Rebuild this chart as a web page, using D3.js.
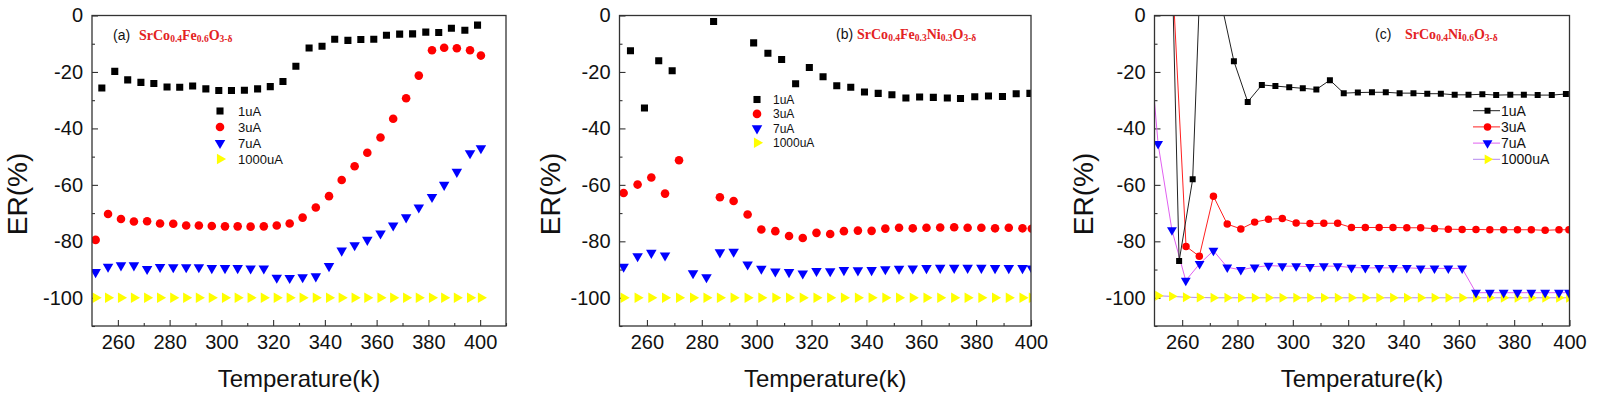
<!DOCTYPE html>
<html>
<head>
<meta charset="utf-8">
<script src="https://cdn.jsdelivr.net/npm/d3@7"></script>
<style>
  body { margin: 0; background: #fff; }
  svg { display: block; font-family: "Liberation Sans", Arial, sans-serif; }
</style>
</head>
<body>
<svg id="chart" width="1597" height="398"></svg>
<script>
// ---- panel (a) SrCo0.4Fe0.6O3-d ----
const tempA1 = [253.8, 258.8, 263.8, 268.9, 273.9, 279.0, 283.9, 288.9, 294.0, 299.0, 303.9, 308.9, 314.0, 318.9, 323.8,
  328.8, 333.9, 338.9, 343.8, 348.9, 353.9, 358.9, 363.8, 368.9, 373.9, 379.0, 384.0, 388.9, 394.1, 399.0];
const erA1 = [-25.7, -19.8, -22.8, -23.7, -24.1, -25.3, -25.4, -25.0, -26.0, -26.6, -26.6, -26.5, -26.0, -25.2, -23.4,
  -18.0, -11.5, -10.9, -8.4, -8.8, -8.5, -8.4, -7.0, -6.6, -6.5, -5.9, -6.0, -4.5, -5.2, -3.4];
const tempA = [251.4, 256.2, 261.2, 266.2, 271.3, 276.3, 281.4, 286.4, 291.3, 296.3, 301.4, 306.3, 311.3, 316.4, 321.4,
  326.4, 331.4, 336.5, 341.6, 346.5, 351.5, 356.4, 361.5, 366.4, 371.4, 376.3, 381.4, 386.1, 391.0, 396.1, 400.3];
const erA3 = [-79.5, -70.3, -72.1, -73.0, -72.9, -73.7, -73.8, -74.4, -74.4, -74.6, -74.7, -74.7, -74.8, -74.7, -74.4,
  -73.7, -71.6, -68.0, -64.0, -58.3, -53.4, -48.6, -43.2, -36.6, -29.3, -21.3, -12.3, -11.4, -11.6, -12.3, -14.2];
const erA7 = [-90.9, -89.0, -88.5, -88.5, -89.8, -89.1, -89.2, -89.2, -89.2, -89.5, -89.5, -89.5, -89.6, -89.6, -92.9,
  -93.0, -92.7, -92.4, -88.8, -83.3, -81.4, -79.5, -77.2, -74.4, -71.5, -68.0, -64.3, -60.0, -55.4, -48.8, -47.0];
const erA1000 = [-100, -100, -100, -100, -100, -100, -100, -100, -100, -100, -100, -100, -100, -100, -100,
  -100, -100, -100, -100, -100, -100, -100, -100, -100, -100, -100, -100, -100, -100, -100, -100];

// ---- panel (b) SrCo0.4Fe0.3Ni0.3O3-d ----
const tempB1 = [254.0, 259.1, 264.3, 269.2, 284.3, 298.9, 304.1, 309.1, 314.2, 319.2, 324.2, 329.2, 334.3, 339.3,
  344.3, 349.3, 354.4, 359.4, 364.4, 369.5, 374.3, 379.5, 384.5, 389.6, 394.6, 399.6];
const erB1 = [-12.5, -32.8, -16.0, -19.6, -2.1, -9.7, -13.4, -15.6, -24.2, -18.4, -21.7, -24.9, -25.4, -27.1,
  -27.6, -28.1, -29.2, -28.9, -29.0, -29.2, -29.4, -28.8, -28.5, -28.7, -27.7, -27.6];
const tempB3 = [251.5, 256.6, 261.6, 266.6, 271.7, 286.6, 291.6, 296.7, 301.7, 306.8, 311.8, 316.8, 321.8, 326.8,
  331.8, 336.9, 341.9, 346.9, 351.9, 356.9, 361.9, 366.9, 372.0, 376.9, 381.9, 386.9, 391.9, 396.9, 400.3];
const erB3 = [-62.9, -59.9, -57.4, -63.1, -51.3, -64.4, -65.7, -70.5, -75.8, -76.4, -78.1, -78.8, -77.0, -77.4,
  -76.4, -76.2, -76.3, -75.5, -75.2, -75.4, -75.2, -75.1, -75.0, -75.2, -75.2, -75.4, -75.2, -75.4, -75.5];
const tempB7 = [251.5, 256.6, 261.6, 266.6, 276.8, 281.7, 286.6, 291.6, 296.7, 301.7, 306.8, 311.8, 316.8, 321.8,
  326.8, 331.8, 336.9, 341.9, 346.9, 351.9, 356.9, 361.9, 366.9, 372.0, 376.9, 381.9, 386.9, 391.9, 396.9, 400.3];
const erB7 = [-89.0, -85.3, -84.1, -85.0, -91.3, -92.7, -83.9, -83.7, -88.2, -89.7, -90.7, -90.9, -91.4, -90.5,
  -90.6, -90.2, -90.3, -90.2, -89.9, -89.7, -89.6, -89.5, -89.4, -89.4, -89.4, -89.4, -89.5, -89.5, -89.5, -89.6];
const tempB1000 = [251.5, 256.6, 261.6, 266.6, 271.7, 276.8, 281.7, 286.6, 291.6, 296.7, 301.7, 306.8, 311.8, 316.8,
  321.8, 326.8, 331.8, 336.9, 341.9, 346.9, 351.9, 356.9, 361.9, 366.9, 372.0, 376.9, 381.9, 386.9, 391.9, 396.9, 400.3];
const erB1000 = [-100, -100, -100, -100, -100, -100, -100, -100, -100, -100, -100, -100, -100, -100,
  -100, -100, -100, -100, -100, -100, -100, -100, -100, -100, -100, -100, -100, -100, -100, -100, -100];

// ---- panel (c) SrCo0.4Ni0.6O3-d ----
const tempC1 = [253.9, 258.9, 263.8, 268.8, 273.8, 278.7, 283.7, 288.8, 293.7, 298.7, 303.6, 308.5, 313.4, 318.4,
  323.5, 328.6, 333.6, 338.6, 343.6, 348.6, 353.5, 358.5, 363.5, 368.5, 373.5, 378.6, 383.5, 388.5, 393.6, 398.7];
const erC1 = [120, -87.0, -58.0, 74, 6, -16.2, -30.6, -24.6, -25.0, -25.4, -25.8, -26.2, -22.9, -27.5,
  -27.3, -27.2, -27.2, -27.5, -27.5, -27.7, -27.7, -28.1, -28.1, -27.9, -28.2, -28.1, -28.1, -28.2, -28.2, -27.8];
const tempC3 = [256.3, 261.4, 266.2, 271.3, 276.3, 281.2, 286.2, 291.2, 296.2, 301.2, 306.2, 311.2, 316.2, 321.2,
  326.2, 331.2, 336.2, 341.2, 346.2, 351.2, 356.2, 361.2, 366.2, 371.2, 376.2, 381.2, 386.2, 391.2, 396.2, 399.8];
const erC3 = [17.6, -81.8, -85.3, -64.0, -73.9, -75.6, -73.2, -72.2, -71.9, -73.5, -73.7, -73.6, -73.6, -75.1,
  -75.1, -75.1, -75.1, -75.2, -75.2, -75.5, -75.7, -75.8, -75.8, -75.9, -75.9, -75.9, -75.9, -76.1, -75.9, -75.9];
const tempC7 = [246.3, 251.3, 256.3, 261.3, 266.3, 271.3, 276.3, 281.2, 286.2, 291.2, 296.2, 301.2, 306.2, 311.2,
  316.2, 321.2, 326.2, 331.2, 336.2, 341.2, 346.2, 351.2, 356.2, 361.2, 366.2, 371.2, 376.2, 381.2, 386.2, 391.2,
  396.2, 399.8];
const erC7 = [12, -45.5, -76.0, -93.9, -88.0, -83.3, -89.2, -90.1, -89.2, -88.6, -88.8, -88.8, -89.0, -88.8,
  -88.8, -89.3, -89.4, -89.4, -89.4, -89.4, -89.6, -89.6, -89.6, -89.6, -98.2, -98.2, -98.2, -98.2, -98.2, -98.2,
  -98.2, -98.2];
const tempC1000 = [251.3, 256.3, 261.3, 266.3, 271.3, 276.3, 281.2, 286.2, 291.2, 296.2, 301.2, 306.2, 311.2, 316.2,
  321.2, 326.2, 331.2, 336.2, 341.2, 346.2, 351.2, 356.2, 361.2, 366.2, 371.2, 376.2, 381.2, 386.2, 391.2, 396.2, 399.8];
const erC1000 = [-99.3, -99.5, -99.8, -99.9, -100, -100, -100, -100, -100, -100, -100, -100, -100, -100,
  -100, -100, -100, -100, -100, -100, -100, -100, -100, -100, -100, -100, -100, -100, -100, -100, -100];

const currentLabels = ["1uA", "3uA", "7uA", "1000uA"];
const xMajorTicks = [260, 280, 300, 320, 340, 360, 380, 400];
const yMajorTicks = [0, -20, -40, -60, -80, -100];
const yMinorTicks = [-10, -30, -50, -70, -90, -110];

const TITLE_RED = "#e3231f";
const SHAPES = ["square", "circle", "down", "right"];
const MARKER_COLORS = ["#000000", "#ff0000", "#0000ff", "#ffff00"];

const zip = (t, v) => t.map((d, i) => ({ t: d, v: v[i] }));

const panels = [
  {
    id: "a", label: "(a)", labelX: 113, formulaX: 139, titleY: 40,
    formula: [["SrCo", 0], ["0.4", 1], ["Fe", 0], ["0.6", 1], ["O", 0], ["3-δ", 1]],
    xRange: [92, 506], xDomain: [250, 410], xMinor: [270, 290, 310, 330, 350, 370, 390, 410],
    yTitleX: 27,
    series: [zip(tempA1, erA1), zip(tempA, erA3), zip(tempA, erA7), zip(tempA, erA1000)],
    lines: null, sizes: [50, 58, 48, 48],
    legend: { mx: 220, tx: 238, y0: 111, dy: 16, font: 13, withLines: false },
  },
  {
    id: "b", label: "(b)", labelX: 836, formulaX: 857, titleY: 39,
    formula: [["SrCo", 0], ["0.4", 1], ["Fe", 0], ["0.3", 1], ["Ni", 0], ["0.3", 1], ["O", 0], ["3-δ", 1]],
    xRange: [619.5, 1031], xDomain: [250, 400], xMinor: [270, 290, 310, 330, 350, 370, 390],
    yTitleX: 560,
    series: [zip(tempB1, erB1), zip(tempB3, erB3), zip(tempB7, erB7), zip(tempB1000, erB1000)],
    lines: null, sizes: [50, 58, 48, 48],
    legend: { mx: 757, tx: 773, y0: 99.5, dy: 14.4, font: 12, withLines: false },
  },
  {
    id: "c", label: "(c)", labelX: 1375, formulaX: 1405, titleY: 39,
    formula: [["SrCo", 0], ["0.4", 1], ["Ni", 0], ["0.6", 1], ["O", 0], ["3-δ", 1]],
    xRange: [1154.5, 1569.5], xDomain: [250, 400], xMinor: [270, 290, 310, 330, 350, 370, 390],
    yTitleX: 1093,
    series: [zip(tempC1, erC1), zip(tempC3, erC3), zip(tempC7, erC7), zip(tempC1000, erC1000)],
    lines: ["#222222", "#ff2020", "#e060f0", "#b488ee"], sizes: [36, 44, 42, 42],
    legend: { mx: 1487.5, tx: 1501, y0: 110.7, dy: 16.2, font: 14, withLines: true, lx: [1473, 1500] },
  },
];

const Y_RANGE = [326, 15.5];

const markerPath = (shape, size) => {
  const type = shape === "square" ? d3.symbolSquare : shape === "circle" ? d3.symbolCircle : d3.symbolTriangle;
  return d3.symbol(type, size)();
};
const markerRotation = (shape) => (shape === "down" ? 180 : shape === "right" ? 90 : 0);

const svg = d3.select("#chart");

const drawMarker = (g, shape, size, color, cx, cy) =>
  g.append("path")
    .attr("d", markerPath(shape, size))
    .attr("transform", `translate(${cx},${cy}) rotate(${markerRotation(shape)})`)
    .attr("fill", color);

const drawPanel = (p) => {
  const x = d3.scaleLinear(p.xDomain, p.xRange);
  const y = d3.scaleLinear([-110, 0], Y_RANGE);
  const g = svg.append("g").attr("class", `panel-${p.id}`);

  g.append("clipPath").attr("id", `clip-${p.id}`)
    .append("rect")
    .attr("x", p.xRange[0]).attr("y", Y_RANGE[1])
    .attr("width", p.xRange[1] - p.xRange[0]).attr("height", Y_RANGE[0] - Y_RANGE[1]);

  // axes (ticks point inward)
  const xAxis = g.append("g").attr("transform", `translate(0,${Y_RANGE[0]})`)
    .call(d3.axisBottom(x).tickValues(xMajorTicks).tickSize(-6).tickPadding(9).tickFormat((d) => String(d)));
  g.append("g").attr("transform", `translate(0,${Y_RANGE[0]})`)
    .call(d3.axisBottom(x).tickValues(p.xMinor).tickSize(-3).tickFormat(""));
  const yAxis = g.append("g").attr("transform", `translate(${p.xRange[0]},0)`)
    .call(d3.axisLeft(y).tickValues(yMajorTicks).tickSize(-6).tickPadding(9).tickFormat((d) => String(d)));
  g.append("g").attr("transform", `translate(${p.xRange[0]},0)`)
    .call(d3.axisLeft(y).tickValues(yMinorTicks).tickSize(-3).tickFormat(""));

  g.selectAll(".domain").remove();
  g.selectAll(".tick line").attr("stroke", "#333").attr("stroke-width", 1.1);
  [xAxis, yAxis].forEach((a) =>
    a.selectAll("text")
      .attr("fill", "#111")
      .style("font-size", "20px")
      .style("font-family", "'Liberation Sans', Arial, sans-serif"));

  // data
  const plot = g.append("g").attr("clip-path", `url(#clip-${p.id})`);
  if (p.lines) {
    const line = d3.line().x((d) => x(d.t)).y((d) => y(d.v));
    [3, 2, 1, 0].forEach((i) =>
      plot.append("path")
        .datum(p.series[i])
        .attr("d", line)
        .attr("fill", "none")
        .attr("stroke", p.lines[i])
        .attr("stroke-width", 1));
  }
  [3, 2, 1, 0].forEach((i) =>
    plot.append("g")
      .selectAll("path")
      .data(p.series[i])
      .join("path")
      .attr("d", markerPath(SHAPES[i], p.sizes[i]))
      .attr("transform", (d) => `translate(${x(d.t)},${y(d.v)}) rotate(${markerRotation(SHAPES[i])})`)
      .attr("fill", MARKER_COLORS[i]));

  // frame
  g.append("rect")
    .attr("x", p.xRange[0]).attr("y", Y_RANGE[1])
    .attr("width", p.xRange[1] - p.xRange[0]).attr("height", Y_RANGE[0] - Y_RANGE[1])
    .attr("fill", "none").attr("stroke", "#333").attr("stroke-width", 1.3);

  // axis titles
  g.append("text")
    .attr("x", (p.xRange[0] + p.xRange[1]) / 2)
    .attr("y", 387)
    .attr("text-anchor", "middle")
    .style("font-size", "24px")
    .attr("fill", "#111")
    .text("Temperature(k)");
  g.append("text")
    .attr("transform", `translate(${p.yTitleX},194) rotate(-90)`)
    .attr("text-anchor", "middle")
    .style("font-size", "28px")
    .attr("fill", "#111")
    .text("ER(%)");

  // panel title
  g.append("text")
    .attr("x", p.labelX).attr("y", p.titleY)
    .style("font-size", "14px")
    .attr("fill", "#111")
    .text(p.label);
  const f = g.append("text")
    .attr("x", p.formulaX).attr("y", p.titleY)
    .attr("fill", TITLE_RED)
    .style("font-family", "'Liberation Serif', 'Times New Roman', serif")
    .style("font-weight", "bold")
    .style("font-size", "14px");
  let lowered = false;
  p.formula.forEach(([txt, sub]) => {
    const shift = sub && !lowered ? 2 : !sub && lowered ? -2 : 0;
    lowered = !!sub;
    f.append("tspan")
      .attr("dy", shift)
      .style("font-size", sub ? "9.5px" : "14px")
      .text(txt);
  });

  // legend
  const L = p.legend;
  currentLabels.forEach((name, i) => {
    const cy = L.y0 + i * L.dy;
    if (L.withLines) {
      g.append("line")
        .attr("x1", L.lx[0]).attr("x2", L.lx[1]).attr("y1", cy).attr("y2", cy)
        .attr("stroke", p.lines[i]).attr("stroke-width", 1);
    }
    drawMarker(g, SHAPES[i], p.sizes[i], MARKER_COLORS[i], L.mx, cy);
    g.append("text")
      .attr("x", L.tx).attr("y", cy).attr("dy", "0.36em")
      .style("font-size", `${L.font}px`)
      .attr("fill", "#111")
      .text(name);
  });
};

panels.forEach(drawPanel);
</script>
</body>
</html>
